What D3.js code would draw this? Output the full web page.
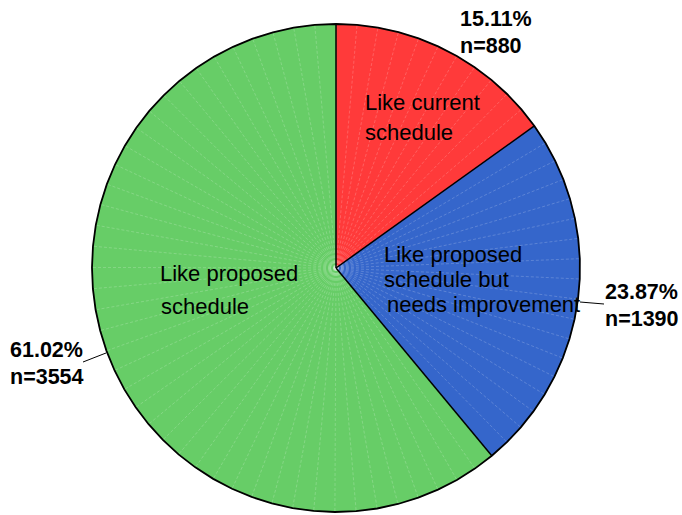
<!DOCTYPE html>
<html><head><meta charset="utf-8">
<script src="https://cdn.jsdelivr.net/npm/d3@7"></script>
<style>body{margin:0;background:#fff}svg{display:block}text{font-family:"Liberation Sans",Arial,sans-serif;fill:#000}</style>
</head><body>
<svg id="c" width="682" height="515"></svg>
<script>
const categories = ["Like current schedule", "Like proposed schedule but needs improvement", "Like proposed schedule"];
const labelLines = [["Like current","schedule"],["Like proposed","schedule but","needs improvement"],["Like proposed","schedule"]];
const counts = [880, 1390, 3554];
const percents = ["15.11%", "23.87%", "61.02%"];
const colors = ["#ff3a3a", "#3566cb", "#67cd67"];

const svg = d3.select("#c");
const cx = 336, cy = 268, R = 244;
const g = svg.append("g").attr("transform", `translate(${cx},${cy})`);
const pie = d3.pie().sort(null).value(d => d)(counts);
const step = Math.PI / 36; // facet width (5 deg)

function pts(a0, a1) {
  const n = Math.max(1, Math.ceil((a1 - a0) / step - 1e-9));
  const p = [];
  for (let i = 0; i <= n; i++) p.push(a0 + (a1 - a0) * i / n);
  return p;
}
const rl = d3.lineRadial().angle(d => d).radius(R);

pie.forEach((s, i) => {
  const angs = pts(s.startAngle, s.endAngle);
  const path = "M0,0L" + rl(angs).slice(1) + "Z";
  g.append("path").attr("d", path).attr("fill", colors[i]).attr("stroke", colors[i]).attr("stroke-width", 0.5);
  angs.slice(1, -1).forEach(a => {
    g.append("line").attr("x1", 0).attr("y1", 0)
      .attr("x2", R * Math.sin(a)).attr("y2", -R * Math.cos(a))
      .attr("stroke", "#fff").attr("stroke-opacity", 0.28).attr("stroke-width", 0.7)
      .attr("stroke-dasharray", "3,2");
  });
});
// slice borders
pie.forEach(s => {
  const a = s.startAngle;
  g.append("line").attr("x1", 0).attr("y1", 0)
    .attr("x2", R * Math.sin(a)).attr("y2", -R * Math.cos(a))
    .attr("stroke", "#000").attr("stroke-width", 1.5);
});
// outline
const all = [];
pie.forEach(s => pts(s.startAngle, s.endAngle).forEach(a => all.push(a)));
g.append("path").attr("d", rl(all) + "Z").attr("fill", "none").attr("stroke", "#000").attr("stroke-width", 1.8);

// inside labels
const inPos = [[365, 110, 30], [384, 262, 25], [160, 281, 33]];
labelLines.forEach((lines, i) => {
  const t = svg.append("text").attr("x", inPos[i][0]).attr("y", inPos[i][1]).style("font-size", "22px");
  lines.forEach((l, j) => t.append("tspan").attr("x", inPos[i][0] + (i === 1 && j === 2 ? 3 : 0) + (i === 2 && j === 1 ? 1 : 0)).attr("y", inPos[i][1] + j * inPos[i][2]).text(l));
});

// outside labels
const outPos = [[460, 26], [605, 299], [10, 357]];
pie.forEach((s, i) => {
  const t = svg.append("text").attr("x", outPos[i][0]).attr("y", outPos[i][1]).style("font-size", "21.5px").style("font-weight", "bold");
  t.append("tspan").attr("x", outPos[i][0]).text(percents[i]);
  t.append("tspan").attr("x", outPos[i][0]).attr("dy", 27).text("n=" + counts[i]);
});
// leader lines
svg.append("line").attr("x1", 580).attr("y1", 302).attr("x2", 604).attr("y2", 304).attr("stroke", "#000").attr("stroke-width", 1);
svg.append("line").attr("x1", 83).attr("y1", 362).attr("x2", 106).attr("y2", 353).attr("stroke", "#000").attr("stroke-width", 1);
</script>
</body></html>
